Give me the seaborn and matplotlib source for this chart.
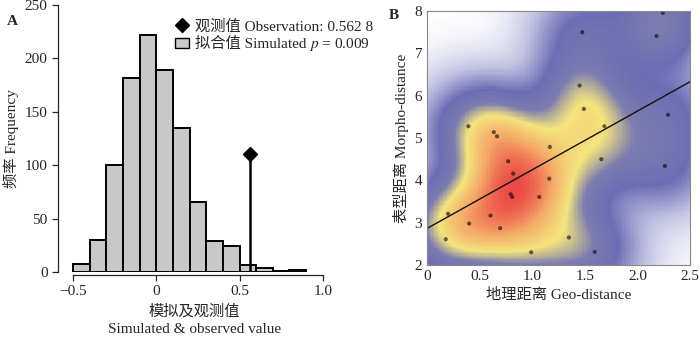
import numpy as np
import pandas as pd
import matplotlib
matplotlib.use("Agg")
import matplotlib.pyplot as plt
import seaborn as sns
from matplotlib.colors import LinearSegmentedColormap
from matplotlib.lines import Line2D
from matplotlib.patches import Patch
from matplotlib.transforms import IdentityTransform

sns.set_style("ticks")
FAM = ['Liberation Serif', 'Noto Sans CJK SC']
plt.rcParams['font.family'] = FAM
plt.rcParams['mathtext.fontset'] = 'stix'
plt.rcParams['axes.unicode_minus'] = True

# ---- Panel A data: histogram of simulated values ----
bin_left = [-0.5, -0.4, -0.3, -0.2, -0.1, 0.0, 0.1, 0.2, 0.3, 0.4, 0.5, 0.6, 0.7, 0.8]
bin_count = [8, 30, 100, 182, 222, 189, 135, 66, 29, 24, 7, 4, 1, 2]
obs_value = 0.5628
obs_height = 111

# ---- Panel B data: geo vs morpho distances ----
geo = [2.24, 1.475, 2.18, 1.45, 1.49, 2.29, 0.393, 1.685, 0.635, 0.666, 1.167,
       1.656, 0.771, 0.819, 2.26, 1.161, 0.796, 0.809, 1.066, 0.20, 0.603,
       0.40, 0.695, 0.178, 1.348, 1.593, 0.99]
morpho = [7.96, 7.50, 7.41, 6.24, 5.69, 5.55, 5.28, 5.28, 5.14, 5.04, 4.79,
          4.50, 4.45, 4.16, 4.34, 4.04, 3.67, 3.61, 3.61, 3.21, 3.17,
          2.98, 2.87, 2.61, 2.65, 2.31, 2.30]

fig = plt.figure(figsize=(7, 3.38), dpi=100)

# ================= Panel A =================
axA = fig.add_axes([0.083, 0.195, 0.39, 0.79])
centers = [b + 0.05 for b in bin_left]
dfA = pd.DataFrame({"x": centers, "w": bin_count})
sns.histplot(data=dfA, x="x", weights="w", bins=len(bin_left), binrange=(-0.5, 0.9),
             color="#c8c8c8", edgecolor="black", linewidth=1.4, alpha=1, ax=axA)
axA.plot([obs_value, obs_value], [0, obs_height], color="black", lw=1.8)
axA.plot([obs_value], [obs_height], marker="D", color="black", ms=7)
axA.set_xlim(-0.59, 1.05)
axA.set_ylim(0, 250)
axA.set_xticks([-0.5, 0, 0.5, 1.0])
axA.set_xticklabels(["\u22120.5", "0", "0.5", "1.0"])
axA.set_yticks([0, 50, 100, 150, 200, 250])
sns.despine(ax=axA)
axA.spines['bottom'].set_bounds(-0.5, 1.0)
axA.spines['bottom'].set_position(('outward', 2))
axA.spines['left'].set_bounds(0, 250)
for s in ['bottom', 'left']:
    axA.spines[s].set_linewidth(0.9)
axA.tick_params(labelsize=11, width=0.9, length=4, direction='out')
axA.set_xlabel("模拟及观测值\nSimulated & observed value", fontsize=11, linespacing=1.45)
axA.set_ylabel("频率 Frequency", fontsize=11, labelpad=4)
handles = [Line2D([], [], marker="D", color="black", ls="none", ms=7),
           Patch(facecolor="#c8c8c8", edgecolor="black", linewidth=1.0)]
labels = ["观测值 Observation: 0.562 8", "拟合值 Simulated"]
leg = axA.legend(handles, labels, loc="upper left", bbox_to_anchor=(0.405, 0.97),
                 frameon=False, fontsize=11, handlelength=0.9, handletextpad=0.4,
                 borderaxespad=0, labelspacing=0.25)

fig.text(0.01, 0.925, "A", fontsize=11, fontweight="bold")

# ================= Panel B =================
axB = fig.add_axes([0.61, 0.216, 0.376, 0.751])
dfB = pd.DataFrame({"geo": geo, "morpho": morpho})

# smoothed density (diagonal gaussian kernel, square-root transform)
hx, hy = 0.28, 0.68
gx = np.linspace(-0.1, 2.6, 220)
gy = np.linspace(1.8, 8.2, 220)
GX, GY = np.meshgrid(gx, gy)
gxa = np.asarray(geo)
gya = np.asarray(morpho)
dens = np.exp(-0.5 * (((GX - gxa[:, None, None]) / hx) ** 2 +
                      ((GY - gya[:, None, None]) / hy) ** 2)).sum(axis=0)
val = (dens / dens.max()) ** 0.5
dens_cmap = LinearSegmentedColormap.from_list(
    "dens", [(0.0, "#ffffff"), (0.2, "#c0c0e2"), (0.4, "#6c6cb4"),
             (0.55, "#7c7cb0"), (0.67, "#f4e47c"), (0.83, "#f4a868"),
             (1.0, "#ec4a46")])
axB.pcolormesh(gx, gy, val, cmap=dens_cmap, vmin=0, vmax=1, shading="auto",
               rasterized=True)

# point colours: darkened local density colour
pdens = np.exp(-0.5 * (((gxa[:, None] - gxa[None, :]) / hx) ** 2 +
                       ((gya[:, None] - gya[None, :]) / hy) ** 2)).sum(axis=1)
pval = (pdens / dens.max()) ** 0.5
pt_colors = [tuple(0.42 * c for c in dens_cmap(min(v, 1.0))[:3]) for v in pval]
sns.scatterplot(data=dfB, x="geo", y="morpho", c=pt_colors,
                s=9, edgecolor="none", legend=False, ax=axB)
sns.regplot(data=dfB, x="geo", y="morpho", scatter=False, ci=None,
            truncate=False, line_kws=dict(color="#111111", lw=1.0), ax=axB)
axB.set_xlim(0, 2.5)
axB.set_ylim(2, 8)
axB.set_xticks([0, 0.5, 1.0, 1.5, 2.0, 2.5])
axB.set_xticklabels(["0", "0.5", "1.0", "1.5", "2.0", "2.5"])
axB.set_yticks([2, 3, 4, 5, 6, 7, 8])
for s in axB.spines.values():
    s.set_color("#888888")
    s.set_linewidth(0.8)
axB.tick_params(labelsize=11, direction='in', length=4, width=0.8, color="#333333")
axB.set_xlabel("地理距离 Geo-distance", fontsize=11)
axB.set_ylabel("表型距离 Morpho-distance", fontsize=11, labelpad=4)
fig.text(0.556, 0.945, "B", fontsize=11, fontweight="bold")

# italic p continuation of second legend entry
fig.canvas.draw()
t2 = leg.get_texts()[1]
bb = t2.get_window_extent()
base = t2.get_transform().transform(t2.get_position())
fig.text(bb.x1 + 3.0, base[1], "$p$ = 0.009", fontsize=11, va="baseline",
         ha="left", transform=IdentityTransform())

fig.savefig("out.png", dpi=100)
